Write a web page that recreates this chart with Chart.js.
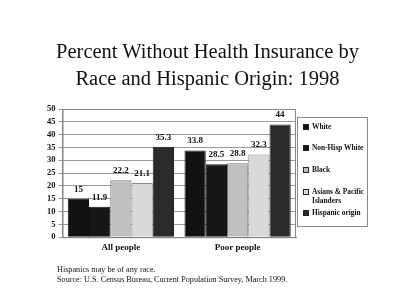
<!DOCTYPE html>
<html>
<head>
<meta charset="utf-8">
<script src="https://cdn.jsdelivr.net/npm/chart.js@4.4.1/dist/chart.umd.min.js"></script>
<style>
  body { margin: 0; background: #fff; }
  #wrap { position: relative; width: 400px; height: 308px; overflow: hidden; font-family: "Liberation Serif", "Times New Roman", serif; color: #111; }
  #chart { position: absolute; left: 0; top: 0; }
  #title { position: absolute; left: 0; width: 415px; top: 38px; text-align: center; font-size: 20.5px; line-height: 27px; }
  #legend { position: absolute; left: 297px; top: 117px; width: 71px; height: 110px; border: 1px solid #888; box-sizing: border-box; font-size: 7.4px; font-weight: bold; }
  #legend .item { position: absolute; left: 5px; display: flex; align-items: flex-start; line-height: 9px; white-space: nowrap; }
  #legend .sw { width: 4px; height: 4px; border: 1px solid #222; margin: 2px 3px 0 0; flex: none; }
  .note { position: absolute; left: 57px; font-size: 8.2px; white-space: nowrap; }
</style>
</head>
<body>
<div id="wrap">
  <canvas id="chart" width="400" height="308"></canvas>
  <div id="title">Percent Without Health Insurance by<br>Race and Hispanic Origin: 1998</div>
  <div id="legend"></div>
  <div class="note" style="top:265px">Hispanics may be of any race.</div>
  <div class="note" style="top:275px">Source: U.S. Census Bureau, Current Population Survey, March 1999.</div>
</div>
<script>
// Chart data: one array per race, values for [All people, Poor people]
const categories = ['All people', 'Poor people'];
const seriesNames = ['White', 'Non-Hisp White', 'Black', 'Asians & Pacific Islanders', 'Hispanic origin'];
const white = [15, 33.8];
const nonHispWhite = [11.9, 28.5];
const black = [22.2, 28.8];
const asianPacific = [21.1, 32.3];
const hispanic = [35.3, 44];
const yTicks = [0, 5, 10, 15, 20, 25, 30, 35, 40, 45, 50];

const seriesData = [white, nonHispWhite, black, asianPacific, hispanic];
const fills = ['#121212', '#161616', '#c0c0c0', '#d9d9d9', '#2a2a2a'];
const borders = ['#111', '#111', '#777', '#888', '#222'];

// draws the value above each bar
const valueLabels = {
  id: 'valueLabels',
  afterDatasetsDraw(chart) {
    const ctx = chart.ctx;
    ctx.save();
    ctx.font = 'bold 9px "Liberation Serif", serif';
    ctx.fillStyle = '#111';
    ctx.textAlign = 'center';
    ctx.textBaseline = 'bottom';
    chart.data.datasets.forEach((ds, i) => {
      chart.getDatasetMeta(i).data.forEach((bar, j) => {
        ctx.fillText(String(ds.data[j]), bar.x, bar.y - 5);
      });
    });
    ctx.restore();
  }
};

// box around the plot area
const plotBorder = {
  id: 'plotBorder',
  beforeDatasetsDraw(chart) {
    const a = chart.chartArea, ctx = chart.ctx;
    ctx.save();
    ctx.strokeStyle = '#888';
    ctx.lineWidth = 1;
    ctx.strokeRect(a.left + 0.5, a.top + 0.5, a.right - a.left - 1, a.bottom - a.top);
    ctx.restore();
  }
};

new Chart(document.getElementById('chart'), {
  type: 'bar',
  data: {
    labels: categories,
    datasets: seriesNames.map((name, i) => ({
      label: name,
      data: seriesData[i],
      backgroundColor: fills[i],
      borderColor: borders[i],
      borderWidth: 1,
      categoryPercentage: 0.91,
      barPercentage: 1
    }))
  },
  options: {
    responsive: false,
    animation: false,
    layout: { padding: { left: 44, right: 104, top: 109, bottom: 50 } },
    plugins: {
      legend: { display: false },
      tooltip: { enabled: false }
    },
    scales: {
      x: {
        grid: { display: false, drawTicks: false },
        border: { color: '#888' },
        ticks: { color: '#111', font: { family: '"Liberation Serif", serif', size: 9, weight: 'bold' }, padding: 5 }
      },
      y: {
        min: 0,
        max: 50,
        afterBuildTicks: (axis) => { axis.ticks = yTicks.map(v => ({ value: v })); },
        grid: { color: '#999', tickLength: 4 },
        border: { color: '#888' },
        ticks: { color: '#111', autoSkip: false, font: { family: '"Liberation Serif", serif', size: 8.5, weight: 'bold' }, padding: 3 }
      }
    }
  },
  plugins: [plotBorder, valueLabels]
});

// HTML legend
const legend = document.getElementById('legend');
const legendTops = [4, 25, 47, 69, 90];
seriesNames.forEach((name, i) => {
  const item = document.createElement('div');
  item.className = 'item';
  item.style.top = legendTops[i] + 'px';
  item.innerHTML = '<span class="sw" style="background:' + fills[i] + '"></span><span>' +
    (i === 3 ? 'Asians &amp; Pacific<br>Islanders' : name) + '</span>';
  legend.appendChild(item);
});
</script>
</body>
</html>
